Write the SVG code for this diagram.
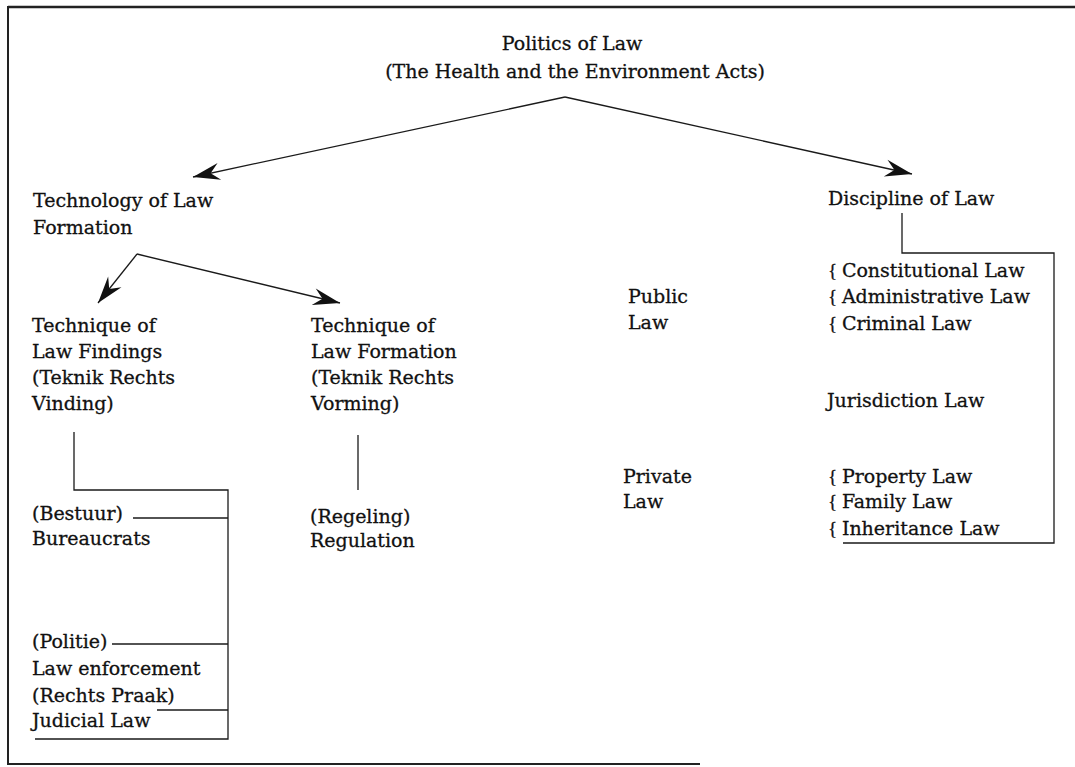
<svg xmlns="http://www.w3.org/2000/svg" width="1075" height="767" viewBox="0 0 1075 767">
  <style>
    text { font-family: "DejaVu Serif", "Liberation Serif", serif; font-size: 19px; fill: #111; stroke: #111; stroke-width: 0.3; }
    .br { font-family: "Liberation Serif", serif; }
    .ln { fill: none; stroke: #1a1a1a; stroke-width: 1.3; }
    .frame { fill: none; stroke: #222; }
  </style>
  <defs>
    <marker id="arrow" viewBox="-30 -10 32 20" refX="0" refY="0" markerWidth="32" markerHeight="20" markerUnits="userSpaceOnUse" orient="auto">
      <path d="M0,0 L-27,-8.5 L-18,0 L-27,8.5 Z" fill="#111"/>
    </marker>
  </defs>

  <rect width="1075" height="767" fill="#fff"/>

  <!-- page frame: open on the right -->
  <g id="frame" class="frame">
    <line x1="8" y1="7" x2="1075" y2="7" stroke-width="2.5"/>
    <line x1="8" y1="6" x2="8" y2="764" stroke-width="2"/>
    <line x1="7" y1="764" x2="700" y2="764" stroke-width="2"/>
  </g>

  <!-- connectors -->
  <g id="connectors" class="ln">
    <path d="M565,97 L193,177" marker-end="url(#arrow)"/>
    <path d="M565,97 L912,174" marker-end="url(#arrow)"/>
    <path d="M137,254 L98,303" marker-end="url(#arrow)"/>
    <path d="M137,254 L340,303" marker-end="url(#arrow)"/>
    <!-- Discipline of Law bracket -->
    <path d="M902,213 V253 H1054 V543 H843"/>
    <!-- Law Findings bracket -->
    <path d="M74,432 V490 H228 V739 H35"/>
    <line x1="133" y1="518" x2="228" y2="518"/>
    <line x1="112" y1="644" x2="228" y2="644"/>
    <line x1="157" y1="710" x2="228" y2="710"/>
    <!-- Law Formation stem -->
    <line x1="358" y1="435" x2="358" y2="490"/>
  </g>

  <g id="politics">
    <text x="572" y="50" text-anchor="middle">Politics of Law</text>
    <text x="575" y="78" text-anchor="middle">(The Health and the Environment Acts)</text>
  </g>

  <g id="technology">
    <text x="33" y="207">Technology of Law</text>
    <text x="33" y="234">Formation</text>
  </g>

  <g id="discipline">
    <text x="828" y="205">Discipline of Law</text>
  </g>

  <g id="law-findings">
    <text x="32" y="332">Technique of</text>
    <text x="32" y="358">Law Findings</text>
    <text x="32" y="384">(Teknik Rechts</text>
    <text x="32" y="410">Vinding)</text>
  </g>

  <g id="law-formation">
    <text x="311" y="332">Technique of</text>
    <text x="311" y="358">Law Formation</text>
    <text x="311" y="384">(Teknik Rechts</text>
    <text x="311" y="410">Vorming)</text>
  </g>

  <g id="bureaucrats">
    <text x="32" y="520">(Bestuur)</text>
    <text x="32" y="545">Bureaucrats</text>
  </g>

  <g id="law-enforcement">
    <text x="32" y="648">(Politie)</text>
    <text x="32" y="675">Law enforcement</text>
    <text x="32" y="702">(Rechts Praak)</text>
    <text x="32" y="727">Judicial Law</text>
  </g>

  <g id="regulation">
    <text x="310" y="523">(Regeling)</text>
    <text x="310" y="547">Regulation</text>
  </g>

  <g id="public-law">
    <text x="628" y="303">Public</text>
    <text x="628" y="329">Law</text>
  </g>

  <g id="private-law">
    <text x="623" y="483">Private</text>
    <text x="623" y="508">Law</text>
  </g>

  <g id="public-branches">
    <text x="828" y="277"><tspan class="br">{ </tspan>Constitutional Law</text>
    <text x="828" y="303"><tspan class="br">{ </tspan>Administrative Law</text>
    <text x="828" y="330"><tspan class="br">{ </tspan>Criminal Law</text>
  </g>

  <g id="jurisdiction">
    <text x="827" y="407">Jurisdiction Law</text>
  </g>

  <g id="private-branches">
    <text x="828" y="483"><tspan class="br">{ </tspan>Property Law</text>
    <text x="828" y="508"><tspan class="br">{ </tspan>Family Law</text>
    <text x="828" y="535"><tspan class="br">{ </tspan>Inheritance Law</text>
  </g>
</svg>
